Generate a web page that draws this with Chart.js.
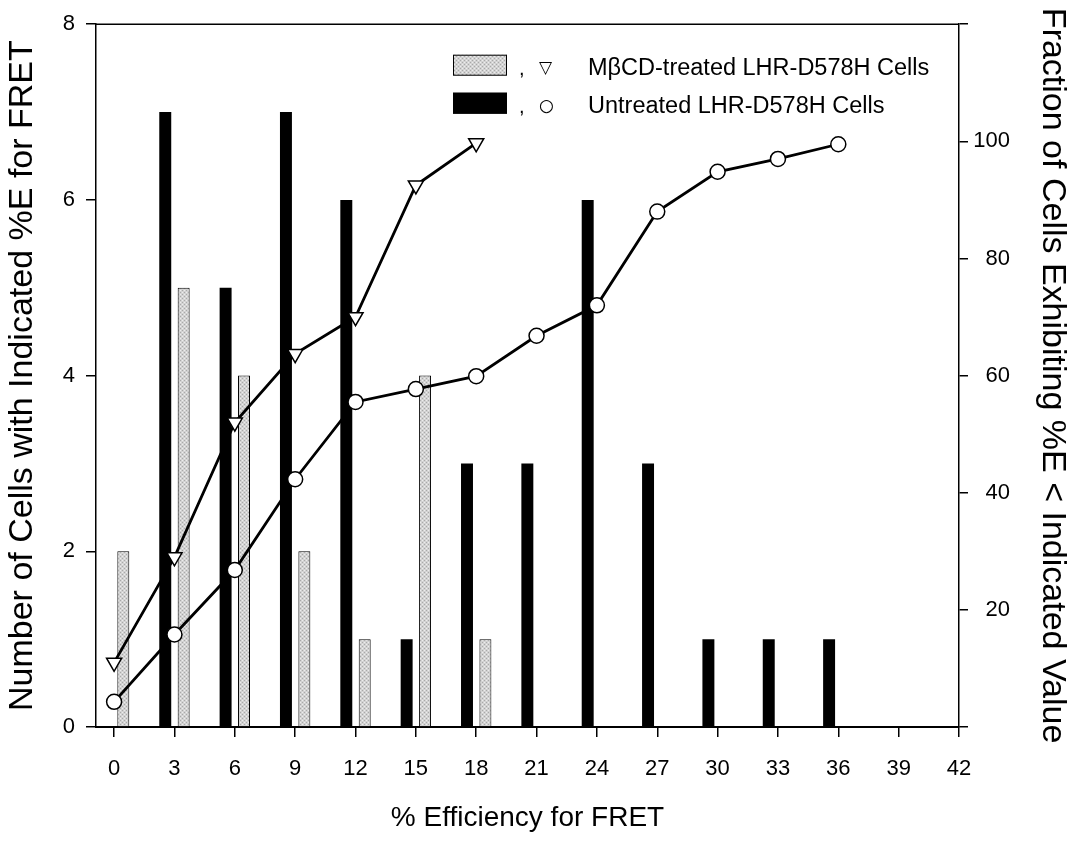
<!DOCTYPE html>
<html>
<head>
<meta charset="utf-8">
<title>FRET efficiency distribution</title>
<script src="https://cdn.jsdelivr.net/npm/chart.js@4.4.1/dist/chart.umd.min.js"></script>
<style>
  html, body { margin: 0; padding: 0; background: #fff; }
  canvas { display: block; }
</style>
</head>
<body>
<canvas id="fret-chart" width="1072" height="848"></canvas>
<script>
// tick values
const xTicks = [0, 3, 6, 9, 12, 15, 18, 21, 24, 27, 30, 33, 36, 39, 42];
const countTicks = [0, 2, 4, 6, 8];
const fractionTicks = [0, 20, 40, 60, 80, 100, 120];

// MβCD-treated cells
const treatedBins = [0, 3, 6, 9, 12, 15, 18];
const treatedCounts = [2, 5, 4, 2, 1, 4, 1];
const treatedFraction = [11, 29, 52, 63.7, 70, 92.5, 99.7];

// untreated cells
const untreatedBins = [3, 6, 9, 12, 15, 18, 21, 24, 27, 30, 33, 36];
const untreatedCounts = [7, 5, 7, 6, 1, 3, 3, 6, 3, 1, 1, 1];
const untreatedFractionBins = [0, 3, 6, 9, 12, 15, 18, 21, 24, 27, 30, 33, 36];
const untreatedFraction = [4.3, 15.8, 26.8, 42.3, 55.5, 57.7, 59.9, 66.8, 72, 88, 94.8, 97, 99.5];

const treatedLabel = 'MβCD-treated LHR-D578H Cells';
const untreatedLabel = 'Untreated LHR-D578H Cells';

const FONT = '"Liberation Sans", Arial, Helvetica, sans-serif';

const toPoints = (xs, ys) => xs.map((x, i) => ({ x: x, y: ys[i] }));

// speckled light grey fill like the printed bars
function stippleFill() {
  const c = document.createElement('canvas');
  c.width = 4;
  c.height = 4;
  const g = c.getContext('2d');
  g.fillStyle = '#d2d2d2';
  g.fillRect(0, 0, 4, 4);
  g.fillStyle = '#a9a9a9';
  g.fillRect(0, 0, 1, 1);
  g.fillRect(2, 2, 1, 1);
  g.fillStyle = '#ededed';
  g.fillRect(2, 0, 1, 1);
  g.fillRect(0, 2, 1, 1);
  return g.createPattern(c, 'repeat');
}
const greyFill = stippleFill();

const frame = {
  id: 'frame',
  afterDatasetsDraw(chart) {
    const { ctx, chartArea } = chart;
    ctx.save();
    ctx.strokeStyle = '#000';
    ctx.lineWidth = 1.5;
    ctx.beginPath();
    ctx.moveTo(chartArea.left, chartArea.top);
    ctx.lineTo(chartArea.right, chartArea.top);
    ctx.stroke();
    ctx.restore();
  }
};

const boxLegend = {
  id: 'boxLegend',
  afterDraw(chart) {
    const { ctx, chartArea } = chart;
    const left = chartArea.left + 357;
    const rows = [
      { fill: greyFill, mark: '\u25BD', text: treatedLabel, y: chartArea.top + 41 },
      { fill: '#000', mark: '\u25CB', text: untreatedLabel, y: chartArea.top + 79 }
    ];
    ctx.save();
    ctx.textBaseline = 'middle';
    rows.forEach(r => {
      ctx.fillStyle = r.fill;
      ctx.fillRect(left, r.y - 10.5, 54, 21);
      ctx.strokeStyle = '#000';
      ctx.lineWidth = 1;
      ctx.strokeRect(left + 0.5, r.y - 10, 53, 20);
      ctx.fillStyle = '#000';
      ctx.font = '20px ' + FONT;
      ctx.fillText(',', left + 66, r.y + 4);
      ctx.font = '17px "DejaVu Sans", sans-serif';
      ctx.fillText(r.mark, left + 86, r.y + 3);
      ctx.font = '23.5px ' + FONT;
      ctx.fillText(r.text, left + 135, r.y + 3);
    });
    ctx.restore();
  }
};

const axisGrid = {
  drawOnChartArea: false,
  drawTicks: true,
  color: '#000',
  lineWidth: 1.5,
  tickLength: 10
};

new Chart(document.getElementById('fret-chart'), {
  type: 'bar',
  data: {
    datasets: [
      {
        label: untreatedLabel,
        data: toPoints(untreatedBins, untreatedCounts),
        backgroundColor: '#000',
        borderWidth: 0,
        yAxisID: 'y',
        order: 2
      },
      {
        label: treatedLabel,
        data: toPoints(treatedBins, treatedCounts),
        backgroundColor: greyFill,
        borderColor: '#000',
        borderWidth: 1,
        yAxisID: 'y',
        order: 2
      },
      {
        type: 'line',
        label: treatedLabel,
        data: toPoints(treatedBins, treatedFraction),
        borderColor: '#000',
        borderWidth: 2.8,
        pointStyle: 'triangle',
        rotation: 180,
        pointRadius: 8.7,
        pointBackgroundColor: '#fff',
        pointBorderColor: '#000',
        pointBorderWidth: 1.5,
        yAxisID: 'y1',
        order: 1
      },
      {
        type: 'line',
        label: untreatedLabel,
        data: toPoints(untreatedFractionBins, untreatedFraction),
        borderColor: '#000',
        borderWidth: 2.8,
        pointStyle: 'circle',
        pointRadius: 7.5,
        pointBackgroundColor: '#fff',
        pointBorderColor: '#000',
        pointBorderWidth: 1.5,
        yAxisID: 'y1',
        order: 1
      }
    ]
  },
  options: {
    responsive: false,
    animation: false,
    // right padding leaves room for the right-hand title outside the y1 box
    layout: { padding: { top: 20, left: 0, right: 62, bottom: 0 } },
    datasets: {
      bar: { categoryPercentage: 0.61, barPercentage: 0.65 }
    },
    plugins: {
      legend: { display: false },
      tooltip: { enabled: false }
    },
    scales: {
      x: {
        type: 'linear',
        min: -0.9,
        max: 42,
        offset: false,
        grid: Object.assign({ offset: false }, axisGrid),
        border: { display: true, color: '#000', width: 2 },
        afterBuildTicks: scale => { scale.ticks = xTicks.map(v => ({ value: v })); },
        afterFit: scale => { scale.height = 121; },
        ticks: {
          color: '#000',
          padding: 19,
          maxRotation: 0,
          autoSkip: false,
          font: { family: FONT, size: 22 }
        },
        title: {
          display: true,
          text: '% Efficiency for FRET',
          color: '#000',
          font: { family: FONT, size: 28 },
          padding: { top: 0, bottom: 13 }
        }
      },
      y: {
        type: 'linear',
        position: 'left',
        min: 0,
        max: 8,
        grid: axisGrid,
        border: { display: true, color: '#000', width: 1.5 },
        afterBuildTicks: scale => { scale.ticks = countTicks.map(v => ({ value: v })); },
        afterFit: scale => { scale.width = 96; },
        ticks: {
          color: '#000',
          padding: 11,
          font: { family: FONT, size: 22 }
        },
        title: {
          display: true,
          text: 'Number of Cells with Indicated %E for FRET',
          color: '#000',
          font: { family: FONT, size: 34 },
          padding: { top: 2, bottom: 0 }
        }
      },
      y1: {
        type: 'linear',
        position: 'right',
        min: 0,
        max: 120,
        grid: Object.assign({}, axisGrid, { tickLength: 9 }),
        border: { display: true, color: '#000', width: 1.5 },
        afterBuildTicks: scale => { scale.ticks = fractionTicks.map(v => ({ value: v })); },
        afterFit: scale => { scale.width = 51; },
        ticks: {
          color: '#000',
          padding: 5,
          crossAlign: 'far',
          font: { family: FONT, size: 22 },
          callback: v => (v === 0 || v === 120 ? '' : String(v))
        },
        title: {
          display: true,
          text: 'Fraction of Cells Exhibiting %E < Indicated Value',
          color: '#000',
          font: { family: FONT, size: 34 },
          padding: { top: -63, bottom: 0 }
        }
      }
    }
  },
  plugins: [frame, boxLegend]
});
</script>
</body>
</html>
